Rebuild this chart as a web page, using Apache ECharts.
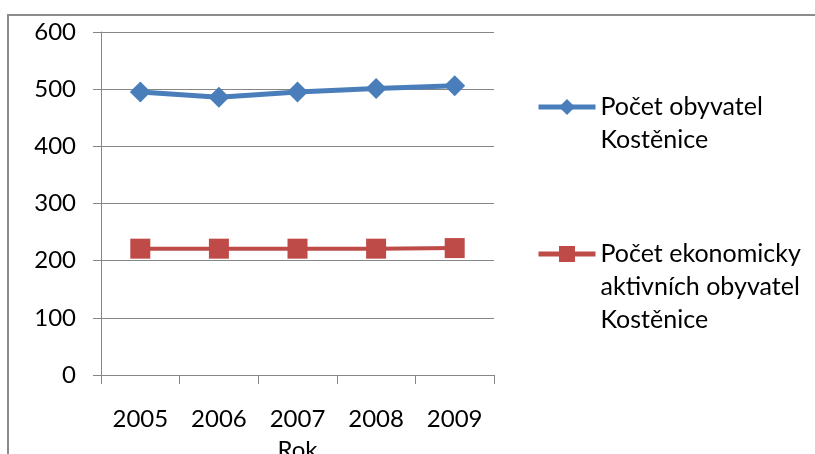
<!DOCTYPE html>
<html>
<head>
<meta charset="utf-8">
<script src="https://cdn.jsdelivr.net/npm/echarts@6/dist/echarts.min.js"></script>
<style>
html,body{margin:0;padding:0;background:#fff;overflow:hidden;width:815px;height:454px;}
#frame{position:absolute;left:7px;top:14px;width:808px;height:440px;border-left:2px solid #8c8c8c;border-top:2px solid #8c8c8c;box-sizing:border-box;}
#chart{position:absolute;left:0;top:0;width:815px;height:454px;}
</style>
</head>
<body>
<div id="frame"></div>
<div id="chart"></div>
<script>
const categories = ['2005', '2006', '2007', '2008', '2009'];
const obyvatele = [495, 486, 495, 501, 506];
const aktivni = [221, 221, 221, 221, 222];
const seriesNames = ['Počet obyvatel\nKostěnice', 'Počet ekonomicky\naktivních obyvatel\nKostěnice'];
const yTicks = { min: 0, max: 600, interval: 100 };
const xAxisName = 'Rok';

const FONT = 'Lato';
const FS = 24;
const LFS = 25;
const LH = 33;
const BLUE = '#4a7ebb';
const RED = '#be4b48';
// put blank lines above so the legend marker lines up with the first text line
function padTop(name) {
  const n = name.split('\n').length - 1;
  return '\n'.repeat(n) + name;
}
const legendText = { fontFamily: FONT, fontSize: LFS, lineHeight: LH, color: '#000' };
const chart = echarts.init(document.getElementById('chart'), null, { renderer: 'canvas' });
chart.setOption({
  backgroundColor: 'transparent',
  animation: false,
  textStyle: { fontFamily: FONT, color: '#000' },
  grid: { left: 101, right: 321, top: 32, bottom: 79, containLabel: false, outerBoundsMode: 'none' },
  legend: [
    {
      left: 531, top: 107 - 3 * LH / 2 - 5, orient: 'vertical', itemWidth: 57, itemHeight: 20, padding: 5,
      data: [{ name: seriesNames[0], lineStyle: { width: 5, color: BLUE } }],
      formatter: padTop, textStyle: legendText
    },
    {
      left: 531, top: 254 - 5 * LH / 2 - 5, orient: 'vertical', itemWidth: 57, itemHeight: 20, padding: 5,
      data: [{ name: seriesNames[1], lineStyle: { width: 5, color: RED } }],
      formatter: padTop, textStyle: legendText
    }
  ],
  xAxis: {
    type: 'category', data: categories, boundaryGap: true,
    name: xAxisName, nameLocation: 'middle', nameGap: 63,
    nameTextStyle: { fontFamily: FONT, fontSize: FS, color: '#000' },
    axisLine: { lineStyle: { color: '#868686', width: 1 } },
    axisTick: { show: true, length: 9, alignWithLabel: false, lineStyle: { color: '#868686' } },
    axisLabel: { fontFamily: FONT, fontSize: FS, color: '#000', margin: 32 },
    splitLine: { show: false }
  },
  yAxis: {
    type: 'value', min: yTicks.min, max: yTicks.max, interval: yTicks.interval,
    axisLine: { show: true, lineStyle: { color: '#868686', width: 1 } },
    axisTick: { show: true, length: 8, lineStyle: { color: '#868686' } },
    axisLabel: { fontFamily: FONT, fontSize: FS, color: '#000', margin: 25 },
    splitLine: { show: true, lineStyle: { color: '#868686', width: 1 } }
  },
  series: [
    {
      name: seriesNames[0], type: 'line', data: obyvatele,
      symbol: 'diamond', symbolSize: [21, 21],
      lineStyle: { color: BLUE, width: 5 },
      itemStyle: { color: BLUE, borderWidth: 0 }
    },
    {
      name: seriesNames[1], type: 'line', data: aktivni,
      symbol: 'rect', symbolSize: [20, 20],
      lineStyle: { color: RED, width: 4 },
      itemStyle: { color: RED, borderWidth: 0 }
    }
  ]
});
</script>
</body>
</html>
